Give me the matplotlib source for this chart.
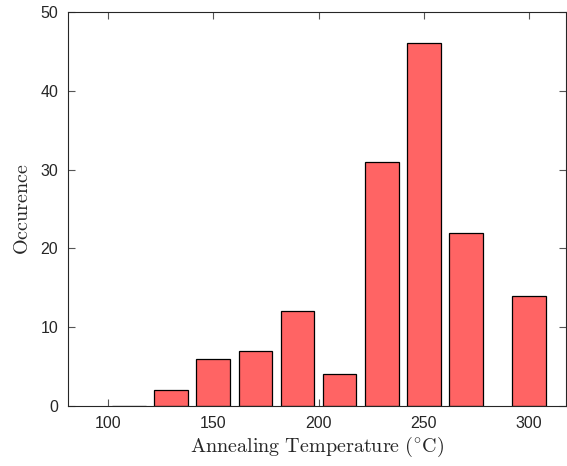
import matplotlib
matplotlib.use("Agg")
import matplotlib.pyplot as plt

temps = [110, 130, 150, 170, 190, 210, 230, 250, 270, 300]
counts = [0, 2, 6, 7, 12, 4, 31, 46, 22, 14]
xticks = [100, 150, 200, 250, 300]
yticks = [0, 10, 20, 30, 40, 50]

plt.rcParams['mathtext.fontset'] = 'cm'
plt.rcParams['font.family'] = ['Liberation Sans', 'DejaVu Sans']

fig = plt.figure(figsize=(5.67, 4.66), dpi=100)
ax = fig.add_axes([0.12, 0.1288, 0.878, 0.8455])
ax.bar(temps, counts, width=16, color='#FF6464', edgecolor='black', linewidth=0.9, zorder=2)
ax.set_xlim(81, 317.5)
ax.set_ylim(0, 50)
ax.set_xticks(xticks)
ax.set_yticks(yticks)
ax.tick_params(direction='in', top=True, right=True, length=5, width=0.8,
               color='#555555', labelsize=11.5, labelcolor='#262626', pad=7)
for s in ax.spines.values():
    s.set_color('#262626')
    s.set_linewidth(0.8)
ax.set_xlabel(r'$\mathrm{Annealing\ Temperature\ (^{\circ}C)}$', fontsize=14.5, color='#262626', labelpad=3)
ax.set_ylabel(r'$\mathrm{Occurence}$', fontsize=14.5, color='#262626', labelpad=6)
fig.savefig('out.png', dpi=100)
